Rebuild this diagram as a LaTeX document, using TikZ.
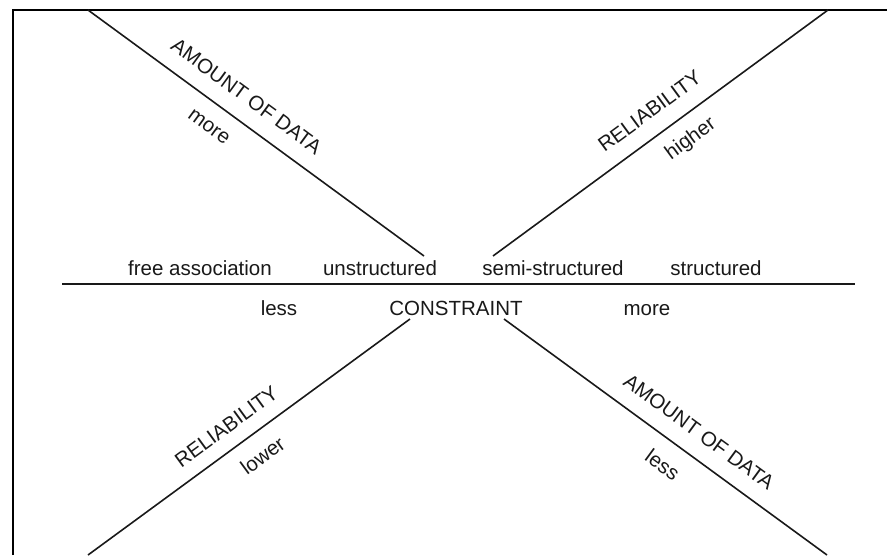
\documentclass[tikz,border=0pt]{standalone}
\usepackage{fontspec}
\setmainfont{Liberation Sans}
\usetikzlibrary{calc}
\begin{document}
\begin{tikzpicture}[x=1pt,y=-1pt,
  lab/.style={font=\fontsize{20.5}{24}\selectfont, inner sep=0pt, text=black!90},
  axis/.style={line width=1.6pt, black!90},
  frame/.style={line width=2.6pt, black}]
\useasboundingbox (0,0) rectangle (887,555);

% frame (left and top edges only)
\coordinate (fbl) at (13,555);
\coordinate (ftl) at (13,10);
\coordinate (ftr) at (887,10);
\draw[frame] (fbl) -- (ftl) -- (ftr);

% constraint axis
\coordinate (hl) at (62,284);
\coordinate (hr) at (855,284);
\draw[axis] (hl) -- (hr);

% diagonal axes
\coordinate (tla) at (88,10);   \coordinate (tlb) at (424,256);
\coordinate (tra) at (493,256); \coordinate (trb) at (828,10);
\coordinate (bla) at (88,555);  \coordinate (blb) at (410,319);
\coordinate (bra) at (504,319); \coordinate (brb) at (827,555);
\draw[axis] (tla) -- (tlb);
\draw[axis] (tra) -- (trb);
\draw[axis] (bla) -- (blb);
\draw[axis] (bra) -- (brb);

% labels along the diagonals
\node[lab, rotate=-36.2] (amtT) at ($(tla)!0.43!(tlb)!24pt!90:(tlb)$) {AMOUNT OF DATA};
\node[lab, rotate=-36.2] (moreT) at ($(tla)!0.40!(tlb)!23pt!-90:(tlb)$) {more};
\node[lab, rotate=36.2] (relT) at ($(tra)!0.51!(trb)!24pt!90:(trb)$) {RELIABILITY};
\node[lab, rotate=36.2] (higher) at ($(tra)!0.55!(trb)!23pt!-90:(trb)$) {higher};
\node[lab, rotate=36.2] (relB) at ($(bla)!0.47!(blb)!22pt!90:(blb)$) {RELIABILITY};
\node[lab, rotate=36.2] (lower) at ($(bla)!0.50!(blb)!23pt!-90:(blb)$) {lower};
\node[lab, rotate=-36.2] (amtB) at ($(bra)!0.56!(brb)!24pt!90:(brb)$) {AMOUNT OF DATA};
\node[lab, rotate=-36.2] (lessB) at ($(bra)!0.535!(brb)!24pt!-90:(brb)$) {less};

% labels on the constraint axis
\node[lab, anchor=base] (free) at (200,275) {free association};
\node[lab, anchor=base] (unstr) at (380,275) {unstructured};
\node[lab, anchor=base] (semi) at (553,275) {semi-structured};
\node[lab, anchor=base] (str) at (716,275) {structured};
\node[lab, anchor=base] (lessC) at (279,315) {less};
\node[lab, anchor=base] (constr) at (456,315) {CONSTRAINT};
\node[lab, anchor=base] (moreC) at (647,315) {more};
\end{tikzpicture}
\end{document}
